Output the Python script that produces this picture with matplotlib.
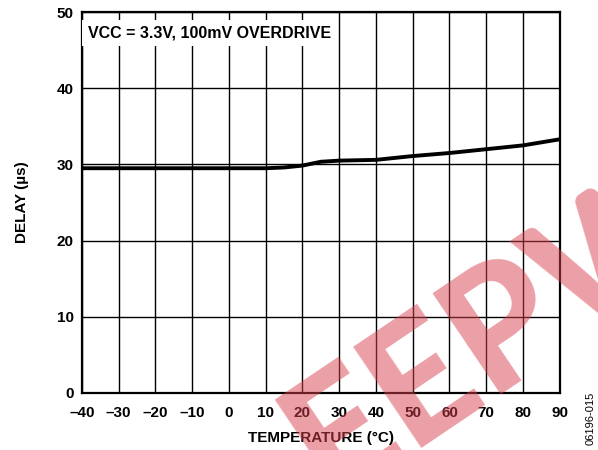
import numpy as np
import matplotlib.pyplot as plt

plt.rcParams['font.family'] = ['Liberation Sans', 'DejaVu Sans']

# delay vs temperature
temp_c = [-40, -30, -20, -10, 0, 10, 15, 20, 25, 30, 40, 50, 60, 70, 80, 90]
delay_us = [29.5, 29.5, 29.5, 29.5, 29.5, 29.5, 29.6, 29.85, 30.35, 30.5, 30.6, 31.1, 31.5, 32.0, 32.5, 33.3]

x_ticks = list(range(-40, 91, 10))
y_ticks = [0, 10, 20, 30, 40, 50]
x_ticklabels = [str(t).replace('-', '\u2013') for t in x_ticks]

fig = plt.figure(figsize=(5.98, 4.5), dpi=100)
ax = fig.add_axes([0.137, 0.127, 0.799, 0.846])

ax.plot(temp_c, delay_us, color='black', lw=2.8, solid_capstyle='butt', zorder=3)

ax.set_xlim(-40, 90)
ax.set_ylim(0, 50)
ax.set_xticks(x_ticks)
ax.set_xticklabels(x_ticklabels, fontweight='bold', fontsize=11)
ax.set_yticks(y_ticks)
ax.set_yticklabels([str(t) for t in y_ticks], fontweight='bold', fontsize=11)
ax.tick_params(axis='x', length=0, pad=9.5)
ax.tick_params(axis='y', length=0, pad=6)
ax.grid(True, color='black', lw=1.0)
for s in ax.spines.values():
    s.set_linewidth(1.6)

ax.set_xlabel('TEMPERATURE (°C)', fontweight='bold', fontsize=11, labelpad=8)
ax.set_ylabel('DELAY (µs)', fontweight='bold', fontsize=11, labelpad=20)

ax.text(0.012, 0.965, 'VCC = 3.3V, 100mV OVERDRIVE', transform=ax.transAxes,
        ha='left', va='top', fontweight='bold', fontsize=11.5, zorder=4,
        bbox=dict(facecolor='white', edgecolor='none', pad=4))

fig.text(0.987, 0.012, '06196-015', rotation=90, fontsize=8, ha='center', va='bottom')

# EEPW watermark over the plot
fig.text(0.835, 0.27, 'EEPW', rotation=34, fontsize=120, fontweight='black',
         family=['Lato', 'DejaVu Sans'], color='#d8414e', alpha=0.5,
         ha='center', va='center', zorder=10)

fig.savefig('out.png', dpi=100)
